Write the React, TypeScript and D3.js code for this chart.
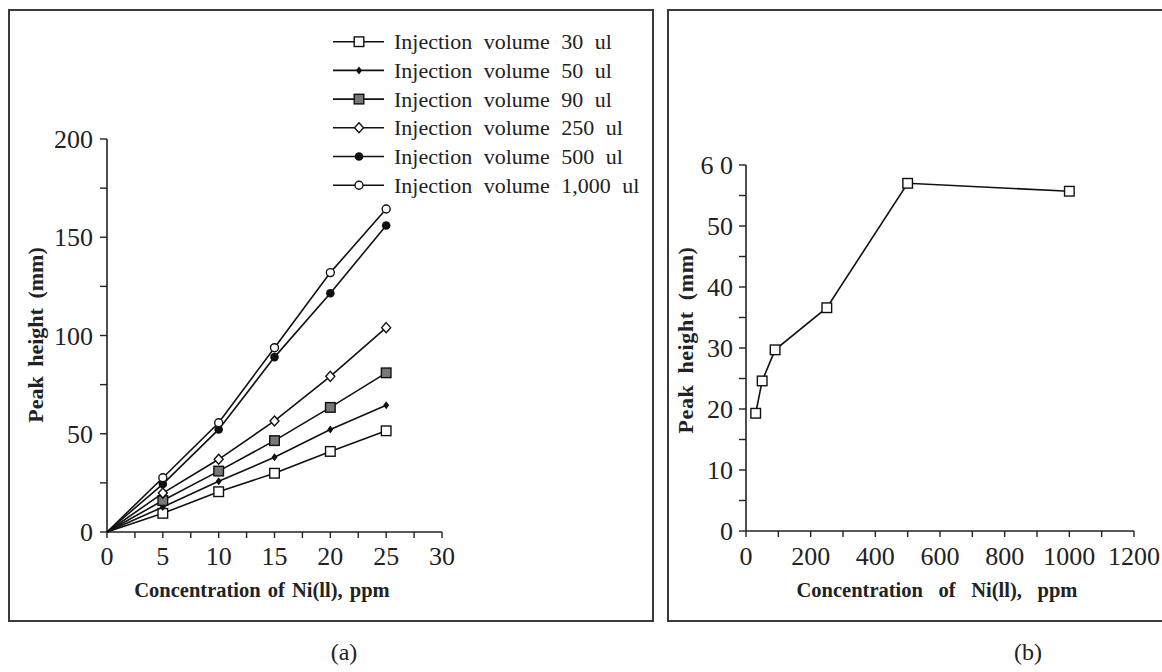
import React from "react";
import * as d3 from "d3";

// ---- Data: chart (a) ----
const concA = [0, 5, 10, 15, 20, 25];
const vol30 = [0, 9.5, 20.5, 29.9, 41, 51.5];
const vol50 = [0, 12.7, 25.8, 38, 52.2, 64.5];
const vol90 = [0, 16, 31, 46.5, 63.4, 81];
const vol250 = [0, 19.8, 37, 56.5, 79.2, 104];
const vol500 = [0, 24.4, 52.2, 89, 121.5, 156];
const vol1000 = [0, 27.6, 55.6, 93.8, 132, 164.4];
const legendLabels = [
  "Injection volume 30 ul",
  "Injection volume 50 ul",
  "Injection volume 90 ul",
  "Injection volume 250 ul",
  "Injection volume 500 ul",
  "Injection volume 1,000 ul",
];
const markerTypes = ["openSquare", "smallDiamond", "graySquare", "openDiamond", "filledCircle", "openCircle"];
const xTicksA = [0, 5, 10, 15, 20, 25, 30];
const yTicksA = [0, 50, 100, 150, 200];

// ---- Data: chart (b) ----
const concB = [30, 50, 90, 250, 500, 1000];
const heightB = [19.3, 24.6, 29.7, 36.6, 57.0, 55.7];
const xTicksB = [0, 200, 400, 600, 800, 1000, 1200];
const yTicksB = [0, 10, 20, 30, 40, 50, 60];
const yTickLabelsB = ["0", "10", "20", "30", "40", "50", "6 0"];

const xTitle = "Concentration of Ni(ll), ppm";
const yTitle = "Peak height (mm)";

const FONT = "'Liberation Serif', 'Times New Roman', serif";

function Marker({ type, x, y }: { type: string; x: number; y: number }) {
  const sw = 1.4;
  switch (type) {
    case "openSquare":
      return <rect x={x - 4.8} y={y - 4.8} width={9.6} height={9.6} fill="#fff" stroke="#111" strokeWidth={sw} />;
    case "graySquare":
      return <rect x={x - 4.8} y={y - 4.8} width={9.6} height={9.6} fill="#777" stroke="#111" strokeWidth={sw} />;
    case "smallDiamond":
      return <path d={`M${x},${y - 4}L${x + 3},${y}L${x},${y + 4}L${x - 3},${y}Z`} fill="#111" />;
    case "openDiamond":
      return <path d={`M${x},${y - 5}L${x + 4.5},${y}L${x},${y + 5}L${x - 4.5},${y}Z`} fill="#fff" stroke="#111" strokeWidth={sw} />;
    case "filledCircle":
      return <circle cx={x} cy={y} r={4.3} fill="#111" />;
    case "openCircle":
      return <circle cx={x} cy={y} r={4} fill="#fff" stroke="#111" strokeWidth={sw} />;
    default:
      return null;
  }
}

export default function App() {
  const seriesA = [vol30, vol50, vol90, vol250, vol500, vol1000];

  const xA = d3.scaleLinear().domain([0, 30]).range([107, 442]);
  const yA = d3.scaleLinear().domain([0, 200]).range([532, 139]);
  const xB = d3.scaleLinear().domain([0, 1200]).range([746, 1134]);
  const yB = d3.scaleLinear().domain([0, 60]).range([531, 165]);

  const lineA = d3
    .line<number>()
    .x((_, i) => xA(concA[i]))
    .y((d) => yA(d));
  const lineB = d3
    .line<number>()
    .x((_, i) => xB(concB[i]))
    .y((d) => yB(d));

  const minorXA = d3.range(0, 30.01, 2.5);
  const minorYA = d3.range(0, 200.01, 25);
  const minorXB = d3.range(0, 1200.01, 100);
  const minorYB = d3.range(0, 60.01, 5);

  const axisStroke = "#222";
  const tickFs = 26;

  return (
    <svg
      width={1162}
      height={672}
      style={{ position: "absolute", left: 0, top: 0, background: "#fff" }}
      fontFamily={FONT}
    >
      <rect x={0} y={0} width={1162} height={672} fill="#fff" />
      {/* frames */}
      <rect x={9} y={10} width={644} height={611} fill="none" stroke="#3a3a3a" strokeWidth={2} />
      <rect x={668} y={10} width={520} height={611} fill="none" stroke="#3a3a3a" strokeWidth={2} />

      {/* ===== Chart (a) ===== */}
      <g>
        <line x1={xA(0)} x2={xA(30)} y1={yA(0)} y2={yA(0)} stroke={axisStroke} strokeWidth={1.6} />
        <line x1={xA(0)} x2={xA(0)} y1={yA(0)} y2={yA(200)} stroke={axisStroke} strokeWidth={1.6} />
        {minorXA.map((t) => (
          <line key={"mxa" + t} x1={xA(t)} x2={xA(t)} y1={yA(0)} y2={yA(0) + 6} stroke={axisStroke} strokeWidth={1.4} />
        ))}
        {minorYA.map((t) => (
          <line key={"mya" + t} x1={xA(0) - 7} x2={xA(0)} y1={yA(t)} y2={yA(t)} stroke={axisStroke} strokeWidth={1.4} />
        ))}
        {xTicksA.map((t) => (
          <text key={"xa" + t} x={xA(t)} y={565} textAnchor="middle" fontSize={tickFs} fill="#222">
            {t}
          </text>
        ))}
        {yTicksA.map((t) => (
          <text key={"ya" + t} x={93} y={yA(t) + 9} textAnchor="end" fontSize={tickFs} fill="#222">
            {t}
          </text>
        ))}
        <text x={262} y={597} textAnchor="middle" fontSize={20.5} fontWeight="bold" wordSpacing={2} fill="#222">
          {xTitle}
        </text>
        <text
          transform={`translate(43,335) rotate(-90)`}
          textAnchor="middle"
          fontSize={22}
          fontWeight="bold"
          wordSpacing={4}
          fill="#222"
        >
          {yTitle}
        </text>

        {seriesA.map((s, si) => (
          <g key={"s" + si}>
            <path d={lineA(s) || ""} fill="none" stroke="#111" strokeWidth={1.6} />
            {s.map((v, i) =>
              i === 0 ? null : <Marker key={i} type={markerTypes[si]} x={xA(concA[i])} y={yA(v)} />
            )}
          </g>
        ))}

        {legendLabels.map((lab, i) => {
          const y = 41.7 + i * 28.7;
          return (
            <g key={"lg" + i}>
              <line x1={333} x2={384} y1={y} y2={y} stroke="#111" strokeWidth={1.6} />
              <Marker type={markerTypes[i]} x={359} y={y} />
              <text x={394} y={y + 7.5} fontSize={22} wordSpacing={6} fill="#222">
                {lab}
              </text>
            </g>
          );
        })}
      </g>

      {/* ===== Chart (b) ===== */}
      <g>
        <line x1={xB(0)} x2={xB(1200)} y1={yB(0)} y2={yB(0)} stroke={axisStroke} strokeWidth={1.6} />
        <line x1={xB(0)} x2={xB(0)} y1={yB(0)} y2={yB(60)} stroke={axisStroke} strokeWidth={1.6} />
        {minorXB.map((t) => (
          <line key={"mxb" + t} x1={xB(t)} x2={xB(t)} y1={yB(0)} y2={yB(0) + 6} stroke={axisStroke} strokeWidth={1.4} />
        ))}
        {minorYB.map((t) => (
          <line key={"myb" + t} x1={xB(0) - 7} x2={xB(0)} y1={yB(t)} y2={yB(t)} stroke={axisStroke} strokeWidth={1.4} />
        ))}
        {xTicksB.map((t) => (
          <text key={"xb" + t} x={xB(t)} y={565} textAnchor="middle" fontSize={tickFs} fill="#222">
            {t}
          </text>
        ))}
        {yTicksB.map((t, i) => (
          <text key={"yb" + t} x={733} y={yB(t) + 9} textAnchor="end" fontSize={tickFs} fill="#222">
            {yTickLabelsB[i]}
          </text>
        ))}
        <text x={937} y={597} textAnchor="middle" fontSize={20.5} fontWeight="bold" wordSpacing={10.5} fill="#222">
          {xTitle}
        </text>
        <text
          transform={`translate(693,340) rotate(-90)`}
          textAnchor="middle"
          fontSize={22}
          fontWeight="bold"
          letterSpacing={0.6}
          wordSpacing={5}
          fill="#222"
        >
          {yTitle}
        </text>
        <path d={lineB(heightB) || ""} fill="none" stroke="#111" strokeWidth={1.6} />
        {heightB.map((v, i) => (
          <Marker key={"pb" + i} type="openSquare" x={xB(concB[i])} y={yB(v)} />
        ))}
      </g>

      <text x={344} y={660} textAnchor="middle" fontSize={24} fill="#222">
        (a)
      </text>
      <text x={1028} y={660} textAnchor="middle" fontSize={24} fill="#222">
        (b)
      </text>
    </svg>
  );
}
